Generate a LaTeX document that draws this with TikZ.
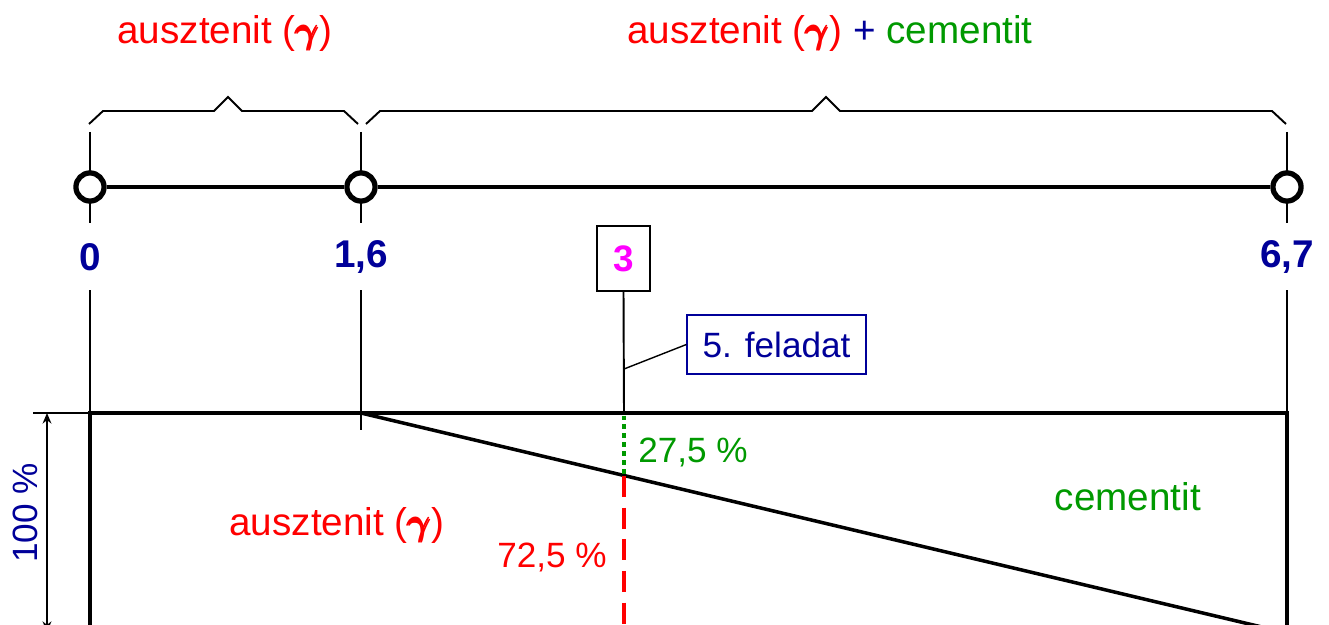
\documentclass[tikz,border=0pt]{standalone}
\usepackage{fontspec}
\usepackage{amsmath}
\setmainfont{Liberation Sans}
\usetikzlibrary{arrows.meta}
\definecolor{navy}{RGB}{0,0,153}
\definecolor{dgreen}{RGB}{0,153,0}
\definecolor{mag}{RGB}{255,0,255}
\newcommand{\gam}{$\boldsymbol{\pmb{\gamma}}$}
\begin{document}
\begin{tikzpicture}[x=0.02cm,y=-0.02cm,
  big/.style={font=\fontsize{22}{26}\selectfont},
  mid/.style={font=\fontsize{20}{24}\selectfont},
  num/.style={font=\fontsize{22}{26}\selectfont\bfseries, text=navy},
  thinline/.style={line width=1.1pt},
  axisline/.style={line width=2.6pt},
  rectline/.style={line width=2.8pt, line join=miter},
  ring/.style={circle, draw, line width=3pt, fill=white, minimum size=16pt, inner sep=0pt},
  every node/.style={inner sep=0pt}]
\useasboundingbox (0,0) rectangle (1329,625);
\clip (0,0) rectangle (1329,625);

% titles
\node[big, text=red] (t1) at (225,33) {ausztenit (\gam)};
\node[big] (t2) at (830,33) {\textcolor{red}{ausztenit (\gam)} \textcolor{navy}{+} \textcolor{dgreen}{cementit}};

% braces
\draw[thinline] (89,124) -- (103,111) -- (214,111) -- (228,97) -- (242,111) -- (344,111) -- (358,124);
\draw[thinline] (366,124) -- (380,111) -- (812,111) -- (826,97) -- (840,111) -- (1272,111) -- (1286,124);

% ticks
\coordinate (k0a) at (90,132); \coordinate (k0b) at (90,223);
\coordinate (k1a) at (361,132); \coordinate (k1b) at (361,223);
\coordinate (k2a) at (1287,132); \coordinate (k2b) at (1287,223);
\draw[thinline] (k0a) -- (k0b);
\draw[thinline] (k1a) -- (k1b);
\draw[thinline] (k2a) -- (k2b);

% axis with rings
\node[ring] (c0) at (90,187) {};
\node[ring] (c16) at (361,187) {};
\node[ring] (c67) at (1287,187) {};
\draw[axisline] (c0) -- (c16);
\draw[axisline] (c16) -- (c67);

% numbers
\node[num] (l0) at (90,257) {0};
\node[num] (l16) at (361,257) {1,6};
\node[num] (l67) at (1287,257) {6,7};
\node[draw, line width=0.9pt, minimum width=30pt, minimum height=36.9pt,
      font=\fontsize{21}{25}\selectfont\bfseries, text=mag] (b3) at (623.5,258.5) {3};

% lower verticals
\coordinate (v0a) at (90,290); \coordinate (v0b) at (90,413);
\coordinate (v1a) at (361,290); \coordinate (v1b) at (361,430);
\coordinate (v2a) at (1287,290); \coordinate (v2b) at (1287,413);
\coordinate (top3) at (624,413);
\coordinate (mid3) at (624,369);
\draw[thinline] (v0a) -- (v0b);
\draw[thinline] (v1a) -- (v1b);
\draw[thinline] (v2a) -- (v2b);
\draw[thinline] (b3.south) -- (top3);

% callout
\node[draw=navy, line width=1.1pt, minimum width=101.5pt, minimum height=33.5pt, mid, text=navy] (fel) at (776.5,344.5) {5. feladat};
\draw[line width=0.8pt] (fel.west) -- (mid3);

% rectangle
\coordinate (rbl) at (90,660); \coordinate (rtl) at (90,413);
\coordinate (rtr) at (1287,413); \coordinate (rbr) at (1287,660);
\draw[rectline] (rbl) -- (rtl) -- (rtr) -- (rbr);
\coordinate (dstart) at (361,413); \coordinate (dend) at (1287,633);
\draw[line width=2pt] (dstart) -- (dend);

% composition at 3
\coordinate (p3) at (624,476); \coordinate (p3b) at (624,660);
\draw[dgreen, line width=2.8pt, dash pattern=on 2.8pt off 2.3pt] (624,415.5) -- (p3);
\draw[red, line width=2.8pt, dash pattern=on 12pt off 6pt] (p3) -- (p3b);

% 100% dimension
\coordinate (e1) at (33,413);
\draw[thinline] (e1) -- (rtl);
\coordinate (a1) at (47,413); \coordinate (a2) at (47,632);
\draw[thinline, {Stealth[length=6pt,width=5pt]}-{Stealth[length=6pt,width=5pt]}] (a1) -- (a2);
\node[mid, text=navy, rotate=90] (pct) at (25,513) {100 \%};

% region labels
\node[mid, text=dgreen, anchor=west] (g275) at (638,452) {27,5 \%};
\node[mid, text=red, anchor=east] (r725) at (607,557) {72,5 \%};
\node[big, text=red] (aus) at (337,525) {ausztenit (\gam)};
\node[big, text=dgreen] (cem) at (1128,497) {cementit};
\end{tikzpicture}
\end{document}
